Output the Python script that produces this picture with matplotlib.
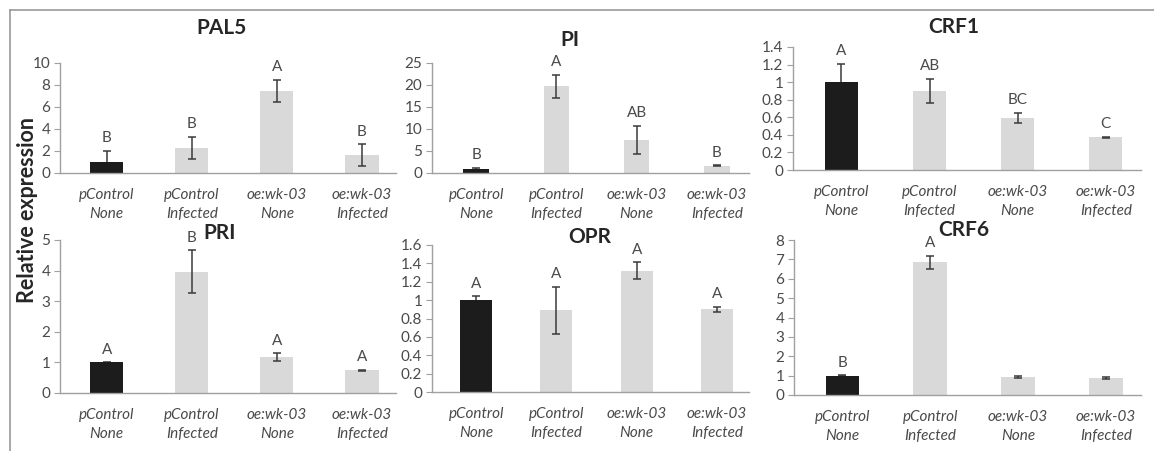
import matplotlib
matplotlib.use("Agg")
import matplotlib.pyplot as plt
from matplotlib.lines import Line2D
from matplotlib.ticker import FuncFormatter

plt.rcParams['font.family'] = ['Lato', 'DejaVu Sans']

# categories (genotype / treatment)
genotypes = ['pControl', 'pControl', 'oe:wk-03', 'oe:wk-03']
treatments = ['None', 'Infected', 'None', 'Infected']

# relative expression, error and significance letters per gene
pal5_val = [1.0, 2.3, 7.5, 1.62]
pal5_err = [1.0, 1.0, 1.0, 1.0]
pal5_sig = ['B', 'B', 'A', 'B']

pi_val = [0.9, 19.7, 7.5, 1.7]
pi_err = [0.3, 2.65, 3.2, 0.1]
pi_sig = ['B', 'A', 'AB', 'B']

crf1_val = [1.0, 0.9, 0.59, 0.37]
crf1_err = [0.21, 0.14, 0.06, 0.005]
crf1_sig = ['A', 'AB', 'BC', 'C']

pri_val = [1.0, 3.97, 1.18, 0.74]
pri_err = [0.01, 0.7, 0.12, 0.02]
pri_sig = ['A', 'B', 'A', 'A']

opr_val = [1.0, 0.89, 1.32, 0.9]
opr_err = [0.04, 0.255, 0.09, 0.03]
opr_sig = ['A', 'A', 'A', 'A']

crf6_val = [1.0, 6.85, 0.92, 0.87]
crf6_err = [0.02, 0.33, 0.05, 0.06]
crf6_sig = ['B', 'A', '', '']

# name, values, errors, letters, y max, y step
panels = [
    ('PAL5', pal5_val, pal5_err, pal5_sig, 10, 2),
    ('PI', pi_val, pi_err, pi_sig, 25, 5),
    ('CRF1', crf1_val, crf1_err, crf1_sig, 1.4, 0.2),
    ('PRI', pri_val, pri_err, pri_sig, 5, 1),
    ('OPR', opr_val, opr_err, opr_sig, 1.6, 0.2),
    ('CRF6', crf6_val, crf6_err, crf6_sig, 8, 1),
]

W, H = 1154, 451
# axes rects in pixels: left, top, right, bottom ; title centre x, y ; bar width
layout = [
    (60, 63, 396, 173, 222, 28, 0.39),
    (432, 63, 749, 173, 570, 40, 0.32),
    (793, 47, 1141, 170, 954, 27, 0.38),
    (60, 240, 396, 393, 220, 233, 0.39),
    (432, 245, 749, 392, 590, 237, 0.40),
    (794, 240, 1141, 395, 964, 230, 0.38),
]

fig = plt.figure(figsize=(W / 100, H / 100), dpi=100)
fig.patch.set_facecolor('white')

axis_col = '#a0a0a0'
text_col = '#4a4a4a'
cats = [f'{g}\n{t}' for g, t in zip(genotypes, treatments)]
fmt = FuncFormatter(lambda v, p: f'{round(v, 2):g}')

for (name, vals, errs, sig, ymax, step), (l, t, r, b, tx, ty, bw) in zip(panels, layout):
    ax = fig.add_axes([l / W, 1 - b / H, (r - l) / W, (b - t) / H])
    xs = list(range(len(vals)))
    colors = ['#1c1c1c'] + ['#d9d9d9'] * (len(vals) - 1)
    ax.bar(xs, vals, width=bw, color=colors, zorder=2)
    # control bar hides the lower half of its error bar, the others show it
    for x, v, e in zip(xs, vals, errs):
        ax.errorbar([x], [v], yerr=[e], fmt='none', ecolor='#3a3a3a',
                    elinewidth=1.1, capsize=3, capthick=1.1,
                    zorder=1 if x == 0 else 3)
    for x, v, e, s in zip(xs, vals, errs, sig):
        ax.annotate(s, (x, v + e), xytext=(0, 4), textcoords='offset points',
                    ha='center', va='bottom', fontsize=11, color=text_col)
    ax.set_xlim(-0.55, 3.4)
    ax.set_ylim(0, ymax)
    n = int(round(ymax / step))
    ax.set_yticks([i * step for i in range(n + 1)])
    ax.yaxis.set_major_formatter(fmt)
    ax.set_xticks(xs)
    ax.set_xticklabels(cats, fontsize=11, style='italic', color=text_col,
                       linespacing=1.4)
    ax.tick_params(axis='x', length=0, pad=11)
    ax.tick_params(axis='y', length=4, color=axis_col, labelsize=11,
                   labelcolor=text_col, pad=3)
    for sp in ['top', 'right']:
        ax.spines[sp].set_visible(False)
    for sp in ['left', 'bottom']:
        ax.spines[sp].set_color(axis_col)
        ax.spines[sp].set_linewidth(1)
    ax.patch.set_alpha(0)
    fig.text(tx / W, 1 - ty / H, name, ha='center', va='center',
             fontsize=15, fontweight='bold', color='#262626')

fig.text(28 / W, 1 - 210 / H, 'Relative expression', rotation=90,
         ha='center', va='center', fontsize=15.5, fontweight='bold', color='#262626')

# outer frame (top and left edges)
fig.add_artist(Line2D([10 / W, 1], [1 - 10 / H, 1 - 10 / H], color='#9a9a9a', lw=1.2))
fig.add_artist(Line2D([10 / W, 10 / W], [0, 1 - 10 / H], color='#9a9a9a', lw=1.2))

fig.savefig('out.png', dpi=100, facecolor='white')
